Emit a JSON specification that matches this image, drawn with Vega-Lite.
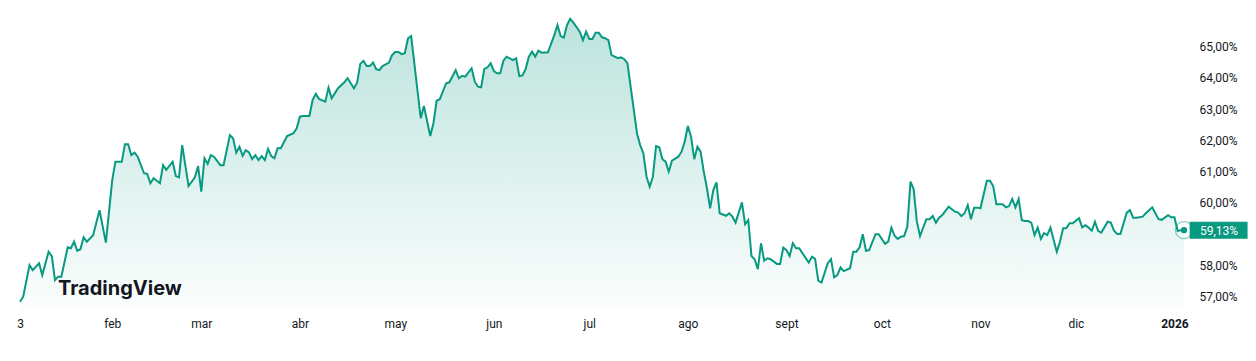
{
  "$schema": "https://vega.github.io/schema/vega-lite/v6.json",
  "width": 1164,
  "height": 310,
  "autosize": {"type": "none"},
  "padding": {"left": 20, "top": 0, "right": 72, "bottom": 51},
  "background": "#ffffff",
  "title": {
    "text": "TradingView",
    "orient": "bottom",
    "anchor": "start",
    "frame": "group",
    "offset": -50,
    "dx": 38,
    "font": "Inter",
    "fontSize": 20,
    "fontWeight": 700,
    "color": "#131722"
  },
  "data": {
    "format": {"parse": {"d": "date:'%Y-%j'"}},
    "values": [
      {"d":"2025-003","v":56.84},{"d":"2025-004","v":57.00},{"d":"2025-006","v":58.01},{"d":"2025-007","v":57.85},
      {"d":"2025-009","v":58.07},{"d":"2025-010","v":57.69},{"d":"2025-012","v":58.44},{"d":"2025-013","v":58.30},
      {"d":"2025-014","v":57.53},{"d":"2025-015","v":57.64},{"d":"2025-016","v":57.64},{"d":"2025-018","v":58.58},
      {"d":"2025-019","v":58.55},{"d":"2025-020","v":58.76},{"d":"2025-021","v":58.47},{"d":"2025-022","v":58.52},
      {"d":"2025-023","v":58.90},{"d":"2025-024","v":58.76},{"d":"2025-026","v":58.97},{"d":"2025-028","v":59.77},
      {"d":"2025-030","v":58.73},{"d":"2025-032","v":60.73},{"d":"2025-033","v":61.32},{"d":"2025-035","v":61.32},
      {"d":"2025-036","v":61.88},{"d":"2025-037","v":61.88},{"d":"2025-038","v":61.53},{"d":"2025-039","v":61.61},
      {"d":"2025-040","v":61.48},{"d":"2025-042","v":60.95},{"d":"2025-043","v":60.93},{"d":"2025-044","v":60.63},
      {"d":"2025-045","v":60.79},{"d":"2025-047","v":60.63},{"d":"2025-048","v":61.21},{"d":"2025-049","v":61.06},
      {"d":"2025-051","v":61.32},{"d":"2025-052","v":60.86},{"d":"2025-053","v":60.82},{"d":"2025-054","v":61.85},
      {"d":"2025-056","v":60.54},{"d":"2025-058","v":60.82},{"d":"2025-059","v":61.18},{"d":"2025-060","v":60.36},
      {"d":"2025-061","v":61.43},{"d":"2025-062","v":61.25},{"d":"2025-063","v":61.53},{"d":"2025-064","v":61.48},
      {"d":"2025-066","v":61.21},{"d":"2025-067","v":61.21},{"d":"2025-069","v":62.17},{"d":"2025-070","v":62.07},
      {"d":"2025-071","v":61.61},{"d":"2025-072","v":61.80},{"d":"2025-073","v":61.51},{"d":"2025-074","v":61.69},
      {"d":"2025-075","v":61.62},{"d":"2025-076","v":61.40},{"d":"2025-077","v":61.53},{"d":"2025-078","v":61.37},
      {"d":"2025-079","v":61.50},{"d":"2025-080","v":61.37},{"d":"2025-081","v":61.73},{"d":"2025-082","v":61.50},
      {"d":"2025-083","v":61.43},{"d":"2025-084","v":61.75},{"d":"2025-085","v":61.75},{"d":"2025-087","v":62.14},
      {"d":"2025-089","v":62.23},{"d":"2025-090","v":62.39},{"d":"2025-091","v":62.76},{"d":"2025-092","v":62.78},
      {"d":"2025-094","v":62.78},{"d":"2025-095","v":63.29},{"d":"2025-096","v":63.49},{"d":"2025-097","v":63.33},
      {"d":"2025-099","v":63.24},{"d":"2025-100","v":63.69},{"d":"2025-101","v":63.35},{"d":"2025-103","v":63.67},
      {"d":"2025-105","v":63.86},{"d":"2025-106","v":63.99},{"d":"2025-107","v":63.83},{"d":"2025-108","v":63.67},
      {"d":"2025-109","v":63.85},{"d":"2025-110","v":64.45},{"d":"2025-111","v":64.55},{"d":"2025-112","v":64.38},
      {"d":"2025-113","v":64.38},{"d":"2025-114","v":64.49},{"d":"2025-115","v":64.28},{"d":"2025-116","v":64.25},
      {"d":"2025-117","v":64.38},{"d":"2025-119","v":64.49},{"d":"2025-120","v":64.73},{"d":"2025-121","v":64.83},
      {"d":"2025-122","v":64.83},{"d":"2025-123","v":64.76},{"d":"2025-124","v":64.79},{"d":"2025-125","v":65.27},
      {"d":"2025-126","v":65.34},{"d":"2025-129","v":62.71},{"d":"2025-130","v":63.10},{"d":"2025-132","v":62.14},
      {"d":"2025-133","v":62.55},{"d":"2025-134","v":63.27},{"d":"2025-135","v":63.32},{"d":"2025-137","v":63.83},
      {"d":"2025-138","v":63.86},{"d":"2025-140","v":64.25},{"d":"2025-141","v":63.99},{"d":"2025-142","v":64.07},
      {"d":"2025-143","v":64.04},{"d":"2025-145","v":64.31},{"d":"2025-146","v":63.88},{"d":"2025-147","v":63.72},
      {"d":"2025-148","v":63.70},{"d":"2025-149","v":64.29},{"d":"2025-150","v":64.34},{"d":"2025-151","v":64.47},
      {"d":"2025-152","v":64.22},{"d":"2025-153","v":64.15},{"d":"2025-154","v":64.15},{"d":"2025-155","v":64.55},
      {"d":"2025-156","v":64.68},{"d":"2025-158","v":64.57},{"d":"2025-159","v":64.63},{"d":"2025-160","v":64.06},
      {"d":"2025-161","v":64.08},{"d":"2025-162","v":64.29},{"d":"2025-163","v":64.68},{"d":"2025-164","v":64.84},
      {"d":"2025-165","v":64.68},{"d":"2025-166","v":64.87},{"d":"2025-167","v":64.81},{"d":"2025-169","v":64.82},
      {"d":"2025-171","v":65.37},{"d":"2025-172","v":65.69},{"d":"2025-173","v":65.34},{"d":"2025-174","v":65.29},
      {"d":"2025-175","v":65.69},{"d":"2025-176","v":65.89},{"d":"2025-177","v":65.77},{"d":"2025-179","v":65.48},
      {"d":"2025-180","v":65.21},{"d":"2025-181","v":65.48},{"d":"2025-182","v":65.25},{"d":"2025-183","v":65.25},
      {"d":"2025-184","v":65.45},{"d":"2025-185","v":65.45},{"d":"2025-186","v":65.30},{"d":"2025-187","v":65.27},
      {"d":"2025-188","v":65.21},{"d":"2025-189","v":64.73},{"d":"2025-191","v":64.63},{"d":"2025-192","v":64.66},
      {"d":"2025-193","v":64.60},{"d":"2025-194","v":64.47},{"d":"2025-197","v":62.23},{"d":"2025-198","v":61.85},
      {"d":"2025-199","v":61.59},{"d":"2025-200","v":60.84},{"d":"2025-201","v":60.52},{"d":"2025-202","v":60.84},
      {"d":"2025-203","v":61.82},{"d":"2025-204","v":61.78},{"d":"2025-205","v":61.40},{"d":"2025-206","v":61.32},
      {"d":"2025-207","v":61.00},{"d":"2025-208","v":61.35},{"d":"2025-210","v":61.48},{"d":"2025-211","v":61.64},
      {"d":"2025-212","v":61.96},{"d":"2025-213","v":62.46},{"d":"2025-214","v":62.12},{"d":"2025-215","v":61.40},
      {"d":"2025-216","v":61.80},{"d":"2025-217","v":61.64},{"d":"2025-218","v":61.00},{"d":"2025-219","v":60.47},
      {"d":"2025-220","v":59.83},{"d":"2025-221","v":60.41},{"d":"2025-222","v":60.66},{"d":"2025-223","v":59.67},
      {"d":"2025-225","v":59.59},{"d":"2025-226","v":59.67},{"d":"2025-227","v":59.56},{"d":"2025-228","v":59.37},
      {"d":"2025-230","v":60.02},{"d":"2025-231","v":59.32},{"d":"2025-232","v":59.45},{"d":"2025-233","v":58.30},
      {"d":"2025-234","v":58.20},{"d":"2025-235","v":57.88},{"d":"2025-236","v":58.71},{"d":"2025-237","v":58.15},
      {"d":"2025-238","v":58.23},{"d":"2025-239","v":58.20},{"d":"2025-241","v":58.05},{"d":"2025-242","v":58.05},
      {"d":"2025-243","v":58.57},{"d":"2025-244","v":58.49},{"d":"2025-245","v":58.30},{"d":"2025-246","v":58.71},
      {"d":"2025-247","v":58.55},{"d":"2025-248","v":58.55},{"d":"2025-251","v":58.09},{"d":"2025-252","v":58.28},
      {"d":"2025-253","v":58.21},{"d":"2025-254","v":57.51},{"d":"2025-255","v":57.45},{"d":"2025-257","v":58.07},
      {"d":"2025-258","v":58.20},{"d":"2025-259","v":57.62},{"d":"2025-260","v":57.69},{"d":"2025-261","v":57.94},
      {"d":"2025-262","v":57.82},{"d":"2025-264","v":57.91},{"d":"2025-265","v":58.44},{"d":"2025-266","v":58.44},
      {"d":"2025-267","v":58.58},{"d":"2025-268","v":59.00},{"d":"2025-269","v":58.47},{"d":"2025-270","v":58.49},
      {"d":"2025-272","v":59.00},{"d":"2025-273","v":59.00},{"d":"2025-275","v":58.69},{"d":"2025-276","v":58.76},
      {"d":"2025-277","v":59.21},{"d":"2025-278","v":58.95},{"d":"2025-279","v":58.85},{"d":"2025-280","v":58.92},
      {"d":"2025-281","v":58.94},{"d":"2025-282","v":59.24},{"d":"2025-283","v":60.68},{"d":"2025-284","v":60.44},
      {"d":"2025-285","v":59.40},{"d":"2025-286","v":58.94},{"d":"2025-288","v":59.48},{"d":"2025-289","v":59.48},
      {"d":"2025-290","v":59.58},{"d":"2025-291","v":59.37},{"d":"2025-292","v":59.53},{"d":"2025-293","v":59.61},
      {"d":"2025-295","v":59.88},{"d":"2025-297","v":59.72},{"d":"2025-298","v":59.69},{"d":"2025-299","v":59.58},
      {"d":"2025-300","v":59.67},{"d":"2025-301","v":59.93},{"d":"2025-302","v":59.48},{"d":"2025-303","v":59.85},
      {"d":"2025-304","v":59.85},{"d":"2025-305","v":59.83},{"d":"2025-307","v":60.71},{"d":"2025-308","v":60.71},
      {"d":"2025-309","v":60.54},{"d":"2025-310","v":59.96},{"d":"2025-312","v":59.96},{"d":"2025-313","v":59.86},
      {"d":"2025-314","v":59.90},{"d":"2025-315","v":60.13},{"d":"2025-316","v":59.86},{"d":"2025-317","v":60.13},
      {"d":"2025-318","v":59.45},{"d":"2025-319","v":59.42},{"d":"2025-320","v":59.42},{"d":"2025-321","v":59.37},
      {"d":"2025-322","v":58.97},{"d":"2025-323","v":59.21},{"d":"2025-324","v":58.85},{"d":"2025-325","v":59.03},
      {"d":"2025-326","v":58.97},{"d":"2025-327","v":59.21},{"d":"2025-329","v":58.44},{"d":"2025-330","v":58.76},
      {"d":"2025-331","v":59.19},{"d":"2025-332","v":59.19},{"d":"2025-333","v":59.35},{"d":"2025-334","v":59.35},
      {"d":"2025-336","v":59.51},{"d":"2025-337","v":59.22},{"d":"2025-338","v":59.29},{"d":"2025-339","v":59.21},
      {"d":"2025-340","v":59.11},{"d":"2025-341","v":59.40},{"d":"2025-342","v":59.11},{"d":"2025-343","v":59.05},
      {"d":"2025-345","v":59.40},{"d":"2025-346","v":59.37},{"d":"2025-347","v":59.11},{"d":"2025-348","v":59.01},
      {"d":"2025-349","v":59.01},{"d":"2025-351","v":59.69},{"d":"2025-352","v":59.77},{"d":"2025-353","v":59.53},
      {"d":"2025-354","v":59.53},{"d":"2025-356","v":59.56},{"d":"2025-357","v":59.67},{"d":"2025-359","v":59.86},
      {"d":"2025-361","v":59.48},{"d":"2025-362","v":59.46},{"d":"2025-364","v":59.61},{"d":"2025-365","v":59.54},
      {"d":"2026-001","v":59.54},{"d":"2026-002","v":59.10},{"d":"2026-003","v":59.13},{"d":"2026-004","v":59.13}
    ]
  },
  "encoding": {
    "x": {
      "field": "d",
      "type": "temporal",
      "scale": {"domain": [{"year": 2025, "month": 1, "date": 3}, {"year": 2026, "month": 1, "date": 4}], "nice": false},
      "axis": {
        "title": null,
        "values": [
          {"year": 2025, "month": 1, "date": 3}, {"year": 2025, "month": 2, "date": 1}, {"year": 2025, "month": 3, "date": 1},
          {"year": 2025, "month": 4, "date": 1}, {"year": 2025, "month": 5, "date": 1}, {"year": 2025, "month": 6, "date": 1},
          {"year": 2025, "month": 7, "date": 1}, {"year": 2025, "month": 8, "date": 1}, {"year": 2025, "month": 9, "date": 1},
          {"year": 2025, "month": 10, "date": 1}, {"year": 2025, "month": 11, "date": 1}, {"year": 2025, "month": 12, "date": 1},
          {"year": 2026, "month": 1, "date": 1}
        ],
        "labelExpr": "year(datum.value) == 2026 ? '2026' : (month(datum.value) == 0 ? '3' : ['ene','feb','mar','abr','may','jun','jul','ago','sept','oct','nov','dic'][month(datum.value)])",
        "labelFontWeight": {"condition": {"test": "year(datum.value) == 2026", "value": "bold"}, "value": "normal"},
        "ticks": false,
        "domain": false,
        "grid": false,
        "labelPadding": 8,
        "labelFont": "Roboto",
        "labelFontSize": 12,
        "labelColor": "#131722",
        "labelOverlap": false,
        "labelFlush": false,
        "labelBound": false
      }
    },
    "y": {
      "field": "v",
      "type": "quantitative",
      "scale": {"domain": [56.574, 66.494], "nice": false, "zero": false},
      "axis": {
        "title": null,
        "orient": "right",
        "values": [57, 58, 60, 61, 62, 63, 64, 65],
        "labelExpr": "replace(format(datum.value, '.2f'), '.', ',') + '%'",
        "ticks": false,
        "domain": false,
        "grid": false,
        "labelPadding": 15,
        "labelAlign": "left",
        "labelFont": "Roboto",
        "labelFontSize": 12,
        "labelColor": "#131722",
        "labelOverlap": false
      }
    }
  },
  "layer": [
    {
      "mark": {
        "type": "area",
        "interpolate": "linear",
        "color": {
          "gradient": "linear",
          "x1": 0, "y1": 0, "x2": 0, "y2": 1,
          "stops": [
            {"offset": 0, "color": "rgba(8,153,129,0.27)"},
            {"offset": 1, "color": "rgba(8,153,129,0.015)"}
          ]
        }
      },
      "encoding": {"y2": {"datum": 56.574}}
    },
    {
      "transform": [
        {"window": [{"op": "row_number", "as": "r"}], "sort": [{"field": "d", "order": "descending"}]},
        {"filter": "datum.r == 1"}
      ],
      "mark": {"type": "point", "shape": "circle", "size": 290, "fill": "#ffffff", "fillOpacity": 0.55, "stroke": "#089981", "strokeOpacity": 0.5, "strokeWidth": 1.2}
    },
    {
      "mark": {"type": "line", "interpolate": "linear", "color": "#089981", "strokeWidth": 2}
    },
    {
      "transform": [
        {"window": [{"op": "row_number", "as": "r"}], "sort": [{"field": "d", "order": "descending"}]},
        {"filter": "datum.r == 1"},
        {"calculate": "replace(format(datum.v, '.2f'), '.', ',') + '%'", "as": "lbl"}
      ],
      "layer": [
        {"mark": {"type": "point", "shape": "circle", "size": 40, "filled": true, "color": "#089981", "opacity": 1}},
        {"mark": {"type": "point", "shape": "M0.66,-1H7.48V1H0.66Z", "size": 289, "filled": true, "color": "#089981", "opacity": 1, "strokeWidth": 0}},
        {"mark": {"type": "text", "color": "#ffffff", "dx": 35, "dy": 1, "align": "center", "baseline": "middle", "font": "Roboto", "fontSize": 12}, "encoding": {"text": {"field": "lbl"}}}
      ]
    }
  ],
  "config": {"view": {"stroke": null}}
}
